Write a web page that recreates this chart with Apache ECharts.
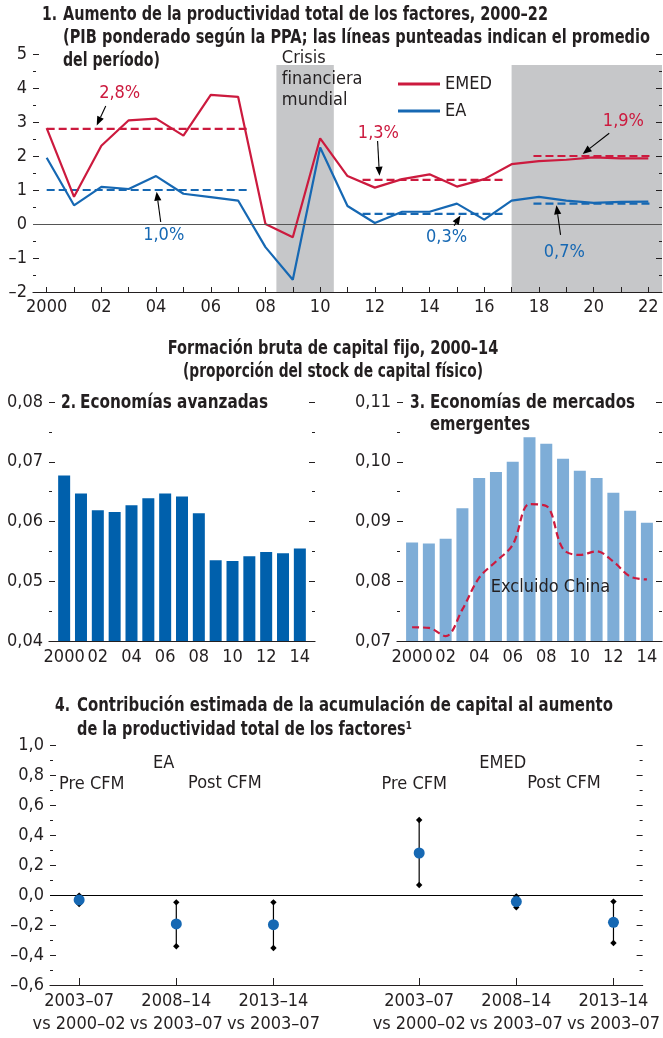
<!DOCTYPE html>
<html lang="es">
<head>
<meta charset="UTF-8" />
<title>Productividad total de los factores</title>
<script src="https://cdn.jsdelivr.net/npm/echarts@6.0.0/dist/echarts.min.js"></script>
<style>
  * { margin: 0; padding: 0; }
  body { background: #fff; }
  #main { width: 663px; height: 1038px; }
</style>
</head>
<body>
<div id="main"></div>
<script>
// ---- panel 1: PTF growth, 2000-22
var years = [2000, 2001, 2002, 2003, 2004, 2005, 2006, 2007, 2008, 2009, 2010,
  2011, 2012, 2013, 2014, 2015, 2016, 2017, 2018, 2019, 2020, 2021, 2022];
var emed = [2.82, 0.8, 2.3, 3.05, 3.1, 2.6, 3.8, 3.74, 0.0, -0.39, 2.52,
  1.41, 1.07, 1.32, 1.46, 1.1, 1.32, 1.76, 1.85, 1.89, 1.96, 1.93, 1.93];
var ea = [1.95, 0.55, 1.09, 1.03, 1.41, 0.89, 0.79, 0.69, -0.68, -1.64, 2.25,
  0.53, 0.03, 0.36, 0.36, 0.6, 0.13, 0.69, 0.8, 0.69, 0.62, 0.65, 0.66];
// [from, to, average]
var emedAvg = [[2000, 2007.33, 2.8], [2011.55, 2016.8, 1.3], [2017.8, 2022.05, 2.0]];
var eaAvg = [[2000, 2007.33, 1.0], [2011.55, 2016.8, 0.3], [2017.8, 2022.05, 0.6]];
var shaded = [[2008.4, 2010.5], [2017, 2022.5]];
var p1Ticks = [2000, 2002, 2004, 2006, 2008, 2010, 2012, 2014, 2016, 2018, 2020, 2022];

// ---- panels 2 and 3: gross fixed capital formation, 2000-14
var gYears = [0, 1, 2, 3, 4, 5, 6, 7, 8, 9, 10, 11, 12, 13, 14];
var gTicks = [0, 2, 4, 6, 8, 10, 12, 14];
var advanced = [0.0677, 0.0647, 0.0619, 0.0616, 0.0627, 0.0639, 0.0647, 0.0642,
  0.0614, 0.0535, 0.0534, 0.0542, 0.0549, 0.0547, 0.0555];
var emerging = [0.0865, 0.0863, 0.0871, 0.0922, 0.0973, 0.0983, 0.1000, 0.1041,
  0.1030, 0.1005, 0.0985, 0.0973, 0.0948, 0.0918, 0.0898];
var exChina = [0.0723, 0.0722, 0.0708, 0.0753, 0.0806, 0.0833, 0.0861, 0.0929,
  0.0926, 0.0854, 0.0844, 0.0850, 0.0833, 0.0808, 0.0803];

// ---- panel 4: contribution of capital accumulation
var cPos = [0, 1, 2, 3.5, 4.5, 5.5];
var cLabels = ['2003–07\nvs 2000–02', '2008–14\nvs 2003–07', '2013–14\nvs 2003–07',
  '2003–07\nvs 2000–02', '2008–14\nvs 2003–07', '2013–14\nvs 2003–07'];
var cPoint = [-0.033, -0.193, -0.198, 0.28, -0.044, -0.182];
var cLow = [-0.06, -0.342, -0.353, 0.067, -0.082, -0.32];
var cHigh = [-0.004, -0.049, -0.049, 0.50, -0.009, -0.044];

var FONT = '"Liberation Sans Narrow", "DejaVu Sans Condensed", "Arial Narrow", sans-serif';
var RED = '#cc1a3e', BLUE = '#1668b3', INK = '#231f20';
var LBL = '18px ' + FONT, BOLD = 'bold 19px ' + FONT;

// annotations of panel 1 (data coordinates)
var callouts = [
  { text: '2,8%', color: RED, at: [2002.67, 3.85], from: [2002.16, 3.47], to: [2001.83, 2.9] },
  { text: '1,0%', color: BLUE, at: [2004.28, -0.34], from: [2004.17, 0.06], to: [2004.02, 0.95] },
  { text: '1,3%', color: RED, at: [2012.13, 2.68], from: [2012.1, 2.44], to: [2012.17, 1.42] },
  { text: '0,3%', color: BLUE, at: [2014.62, -0.38], from: [2014.9, -0.05], to: [2015.13, 0.25] },
  { text: '0,7%', color: BLUE, at: [2018.93, -0.82], from: [2018.79, -0.32], to: [2018.64, 0.55] },
  { text: '1,9%', color: RED, at: [2021.09, 3.03], from: [2020.57, 2.67], to: [2019.6, 2.06] }
];
var crisisText = [{ text: 'Crisis\nfinanciera\nmundial', at: [2008.6, 4.25], align: 'left' }];
var p3Notes = [{ text: 'Excluido China', at: [8.25, 0.079], align: 'center' }];
var p4Notes = [
  { text: 'EA', at: [0.87, 0.88] }, { text: 'Pre CFM', at: [0.13, 0.735] },
  { text: 'Post CFM', at: [1.5, 0.745] }, { text: 'EMED', at: [4.36, 0.88] },
  { text: 'Pre CFM', at: [3.45, 0.735] }, { text: 'Post CFM', at: [4.99, 0.745] }
];

function comma(v, d) {
  return v.toFixed(d).replace('.', ',').replace('-', '–');
}
function yAxisPair(grid, min, max, interval, fmt) {
  var base = {
    gridIndex: grid, type: 'value', min: min, max: max, interval: interval, z: 3,
    axisLine: { show: false, onZero: false }, splitLine: { show: false },
    axisTick: { show: true, inside: true, length: 6, lineStyle: { color: INK } },
    minorTick: { show: true, splitNumber: 2, length: 3, lineStyle: { color: INK } }
  };
  var left = echarts.util.merge({
    position: 'left',
    axisLabel: { color: INK, fontSize: 18, fontFamily: FONT, margin: 6, formatter: fmt }
  }, base, true);
  var right = echarts.util.merge({ position: 'right', axisLabel: { show: false } }, base, true);
  return [left, right];
}
function noteSeries(xi, yi, notes, color, font) {
  return {
    type: 'custom', xAxisIndex: xi, yAxisIndex: yi, silent: true, z: 6,
    data: notes.map(function (n) { return n.at; }),
    renderItem: function (params, api) {
      var n = notes[params.dataIndex];
      var p = api.coord([api.value(0), api.value(1)]);
      return {
        type: 'text', x: p[0], y: p[1],
        style: { text: n.text, fill: n.color || color, font: font, lineHeight: 21,
          align: n.align || 'center', verticalAlign: 'middle' }
      };
    }
  };
}
function avgSeries(rows, color) {
  return {
    type: 'custom', xAxisIndex: 0, yAxisIndex: 0, silent: true, z: 4,
    data: rows,
    renderItem: function (params, api) {
      var a = api.coord([api.value(0), api.value(2)]);
      var b = api.coord([api.value(1), api.value(2)]);
      return {
        type: 'line', shape: { x1: a[0], y1: a[1], x2: b[0], y2: b[1] },
        style: { stroke: color, lineWidth: 2.2, lineDash: [8, 4] }
      };
    }
  };
}
function xAxisBase(grid, min, max) {
  return {
    gridIndex: grid, type: 'value', min: min, max: max, z: 3,
    splitLine: { show: false },
    axisLine: { onZero: false, lineStyle: { color: INK, width: 1.2 } }
  };
}

var p1y = yAxisPair(0, -2, 5, 1, function (v) { return String(v).replace('-', '–'); });
var p2y = yAxisPair(1, 0.04, 0.08, 0.01, function (v) { return comma(v, 2); });
var p3y = yAxisPair(2, 0.07, 0.11, 0.01, function (v) { return comma(v, 2); });
var p4y = yAxisPair(3, -0.6, 1.0, 0.2, function (v) { return comma(v, 1); });

// titles are squeezed horizontally to the width they take in the original
var measure = document.createElement('canvas').getContext('2d');
function text(x, y, s, font, width, align) {
  var sx = 1;
  if (width) {
    measure.font = font;
    sx = width / measure.measureText(s).width;
  }
  return { type: 'text', x: x, y: y, scaleX: sx, silent: true,
    style: { text: s, font: font, fill: INK, align: align || 'left', verticalAlign: 'middle' } };
}

var chart = echarts.init(document.getElementById('main'));
var option = {
  backgroundColor: '#fff',
  animation: false,
  textStyle: { fontFamily: FONT },
  graphic: [
    text(42, 15, '1.', BOLD, 15),
    text(63, 15, 'Aumento de la productividad total de los factores, 2000–22', BOLD, 485),
    text(63, 38, '(PIB ponderado según la PPA; las líneas punteadas indican el promedio', BOLD, 587),
    text(63, 61, 'del período)', BOLD, 97),
    text(333, 349, 'Formación bruta de capital fijo, 2000–14', BOLD, 330, 'center'),
    text(333, 372, '(proporción del stock de capital físico)', BOLD, 300, 'center'),
    text(61, 403, '2.', BOLD, 15),
    text(80, 403, 'Economías avanzadas', BOLD, 188),
    text(410, 403, '3.', BOLD, 15),
    text(430, 403, 'Economías de mercados', BOLD, 205),
    text(430, 425, 'emergentes', BOLD, 100),
    text(55, 706, '4.', BOLD, 15),
    text(77, 706, 'Contribución estimada de la acumulación de capital al aumento', BOLD, 536),
    text(77, 730, 'de la productividad total de los factores¹', BOLD, 335)
  ],
  legend: {
    data: ['EMED', 'EA'], orient: 'vertical', left: 393, top: 70,
    icon: 'rect', itemWidth: 42, itemHeight: 3, itemGap: 9, selectedMode: false,
    textStyle: { color: INK, fontSize: 18, fontFamily: FONT }
  },
  grid: [
    { left: 33, right: 1, top: 54, bottom: 746 },
    { left: 49, right: 348, top: 402, bottom: 397 },
    { left: 397, right: 1, top: 402, bottom: 397 },
    { left: 50, right: 3, top: 745, bottom: 53 }
  ],
  xAxis: [
    echarts.util.merge(xAxisBase(0, 1999.5, 2022.5), {
      axisTick: { show: true, inside: true, length: 5, customValues: years, lineStyle: { color: INK } },
      axisLabel: { color: INK, fontSize: 18, fontFamily: FONT, margin: 6, customValues: p1Ticks,
        formatter: function (v) { return v === 2000 ? '2000' : String(v).slice(2); } }
    }),
    echarts.util.merge(xAxisBase(1, -0.9, 14.9), {
      axisTick: { show: false },
      axisLabel: { color: INK, fontSize: 18, fontFamily: FONT, margin: 7, customValues: gTicks,
        formatter: function (v) { return v === 0 ? '2000' : (v < 10 ? '0' : '') + v; } }
    }),
    echarts.util.merge(xAxisBase(2, -0.9, 14.9), {
      axisTick: { show: false },
      axisLabel: { color: INK, fontSize: 18, fontFamily: FONT, margin: 7, customValues: gTicks,
        formatter: function (v) { return v === 0 ? '2000' : (v < 10 ? '0' : '') + v; } }
    }),
    echarts.util.merge(xAxisBase(3, -0.3, 5.8), {
      axisTick: { show: true, inside: true, length: 7, customValues: cPos, lineStyle: { color: INK } },
      axisLabel: { color: INK, fontSize: 18, fontFamily: FONT, margin: 5, lineHeight: 23,
        customValues: cPos, formatter: function (v) { return cLabels[cPos.indexOf(v)]; } }
    })
  ],
  yAxis: [p1y[0], p1y[1], p2y[0], p2y[1], p3y[0], p3y[1], p4y[0], p4y[1]],
  series: [
    {
      type: 'custom', xAxisIndex: 0, yAxisIndex: 0, silent: true, z: 1,
      data: shaded,
      renderItem: function (params, api) {
        var a = api.coord([api.value(0), 4.68]);
        var b = api.coord([api.value(1), -2]);
        return { type: 'rect', shape: { x: a[0], y: a[1], width: b[0] - a[0], height: b[1] - a[1] },
          style: { fill: '#c6c7c9' } };
      }
    },
    {
      name: 'EMED', type: 'line', xAxisIndex: 0, yAxisIndex: 0, z: 4,
      data: years.map(function (y, i) { return [y, emed[i]]; }),
      symbol: 'none', color: RED, lineStyle: { width: 2.2, color: RED },
      markLine: {
        silent: true, symbol: 'none', label: { show: false },
        lineStyle: { color: '#555', width: 1.2, type: 'solid' },
        data: [{ yAxis: 0 }]
      }
    },
    {
      name: 'EA', type: 'line', xAxisIndex: 0, yAxisIndex: 0, z: 4,
      data: years.map(function (y, i) { return [y, ea[i]]; }),
      symbol: 'none', color: BLUE, lineStyle: { width: 2.2, color: BLUE }
    },
    avgSeries(emedAvg, RED),
    avgSeries(eaAvg, BLUE),
    {
      type: 'custom', xAxisIndex: 0, yAxisIndex: 0, silent: true, z: 6,
      data: callouts.map(function (c) { return c.at.concat(c.from, c.to); }),
      renderItem: function (params, api) {
        var c = callouts[params.dataIndex];
        var t = api.coord([api.value(0), api.value(1)]);
        var a = api.coord([api.value(2), api.value(3)]);
        var b = api.coord([api.value(4), api.value(5)]);
        var ang = Math.atan2(b[1] - a[1], b[0] - a[0]);
        var L = 9, W = 3.6;
        var bx = b[0] - L * Math.cos(ang), by = b[1] - L * Math.sin(ang);
        var sx = W * Math.sin(ang), sy = W * Math.cos(ang);
        return {
          type: 'group', children: [
            { type: 'text', x: t[0], y: t[1],
              style: { text: c.text, fill: c.color, font: LBL, align: 'center', verticalAlign: 'middle' } },
            { type: 'line', shape: { x1: a[0], y1: a[1], x2: bx, y2: by },
              style: { stroke: '#000', lineWidth: 1.1 } },
            { type: 'polygon', shape: { points: [[b[0], b[1]], [bx + sx, by - sy], [bx - sx, by + sy]] },
              style: { fill: '#000' } }
          ]
        };
      }
    },
    noteSeries(0, 0, crisisText, INK, LBL),
    {
      type: 'bar', xAxisIndex: 1, yAxisIndex: 2, barWidth: 12,
      data: gYears.map(function (y, i) { return [y, advanced[i]]; }),
      itemStyle: { color: '#0060ac' }
    },
    {
      type: 'bar', xAxisIndex: 2, yAxisIndex: 4, barWidth: 12,
      data: gYears.map(function (y, i) { return [y, emerging[i]]; }),
      itemStyle: { color: '#7eadd7' }
    },
    {
      type: 'line', xAxisIndex: 2, yAxisIndex: 4, smooth: 0.35, symbol: 'none', z: 4,
      data: gYears.map(function (y, i) { return [y, exChina[i]]; }),
      lineStyle: { color: RED, width: 2.2, type: [7, 4] }
    },
    noteSeries(2, 4, p3Notes, INK, LBL),
    {
      type: 'custom', xAxisIndex: 3, yAxisIndex: 6, silent: true, z: 3,
      data: cPos.map(function (x, i) { return [x, cLow[i], cHigh[i]]; }),
      renderItem: function (params, api) {
        var lo = api.coord([api.value(0), api.value(1)]);
        var hi = api.coord([api.value(0), api.value(2)]);
        function diamond(p) {
          var r = 3.2;
          return { type: 'polygon', shape: { points: [[p[0], p[1] - r], [p[0] + r, p[1]], [p[0], p[1] + r], [p[0] - r, p[1]]] },
            style: { fill: '#000' } };
        }
        return {
          type: 'group', children: [
            { type: 'line', shape: { x1: lo[0], y1: lo[1], x2: hi[0], y2: hi[1] },
              style: { stroke: '#000', lineWidth: 1.2 } },
            diamond(lo), diamond(hi)
          ]
        };
      }
    },
    {
      type: 'scatter', xAxisIndex: 3, yAxisIndex: 6, symbolSize: 11, z: 5,
      data: cPos.map(function (x, i) { return [x, cPoint[i]]; }),
      itemStyle: { color: BLUE, opacity: 1 },
      markLine: {
        silent: true, symbol: 'none', label: { show: false },
        lineStyle: { color: '#000', width: 1.2, type: 'solid' },
        data: [{ yAxis: 0 }]
      }
    },
    noteSeries(3, 6, p4Notes, INK, LBL)
  ]
};
chart.setOption(option);
</script>
</body>
</html>
